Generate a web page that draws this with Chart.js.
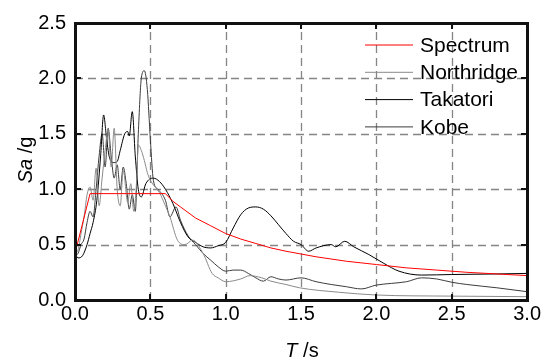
<!DOCTYPE html>
<html>
<head>
<meta charset="utf-8">
<script src="https://cdn.jsdelivr.net/npm/chart.js"></script>
<style>
    html, body { margin: 0; padding: 0; background: #fff; }
    #wrap { width: 543px; height: 361px; }
</style>
</head>
<body>
<div id="wrap"><canvas id="sa-chart" width="543" height="361"></canvas></div>
<script>
// period T (s) and spectral acceleration Sa (g)
const spectrumT  = [0, 0.1, 0.6, 0.65, 0.7, 0.8, 0.9, 1.0, 1.1, 1.2, 1.3, 1.4, 1.5, 1.6, 1.8, 2.0, 2.2, 2.4, 2.6, 2.8, 3.0];
const spectrumSa = [0.42, 0.96, 0.96, 0.89, 0.84, 0.74, 0.67, 0.60, 0.55, 0.51, 0.47, 0.44, 0.415, 0.39, 0.35, 0.32, 0.29, 0.27, 0.25, 0.235, 0.22];

const northridgeT  = [0, 0.02, 0.04, 0.06, 0.08, 0.1, 0.12, 0.14, 0.16, 0.18, 0.2, 0.22, 0.24, 0.26, 0.28, 0.3, 0.32, 0.35, 0.37, 0.39, 0.41, 0.42, 0.44, 0.46, 0.48, 0.5, 0.56, 0.6, 0.63, 0.68, 0.73, 0.78, 0.85, 0.91, 0.95, 1.0, 1.1, 1.16, 1.24, 1.3, 1.4, 1.49, 1.75, 2.0, 2.5, 3.0];
const northridgeSa = [0.42, 0.45, 0.6, 0.75, 0.95, 1.02, 0.9, 1.19, 0.85, 1.1, 1.35, 1.54, 1.2, 1.55, 1.0, 0.85, 1.17, 0.88, 1.05, 0.8, 1.1, 1.4, 1.35, 1.26, 1.15, 1.08, 0.97, 0.85, 0.75, 0.54, 0.5, 0.54, 0.42, 0.24, 0.2, 0.165, 0.19, 0.22, 0.2, 0.17, 0.14, 0.11, 0.07, 0.045, 0.035, 0.03];

const takatoriT  = [0, 0.02, 0.05, 0.08, 0.1, 0.12, 0.145, 0.17, 0.19, 0.21, 0.23, 0.26, 0.28, 0.3, 0.33, 0.35, 0.36, 0.38, 0.4, 0.42, 0.44, 0.47, 0.52, 0.56, 0.6, 0.65, 0.7, 0.75, 0.8, 0.85, 0.9, 0.95, 1.0, 1.05, 1.1, 1.15, 1.2, 1.25, 1.3, 1.35, 1.4, 1.45, 1.5, 1.55, 1.6, 1.7, 1.73, 1.79, 1.85, 1.95, 2.05, 2.15, 2.3, 2.5, 2.8, 3.0];
const takatoriSa = [0.42, 0.38, 0.4, 0.5, 0.6, 0.7, 0.9, 1.3, 1.67, 1.45, 1.28, 1.24, 1.25, 1.35, 1.5, 1.52, 1.48, 1.7, 1.3, 1.0, 0.93, 1.05, 1.1, 1.07, 1.0, 0.87, 0.7, 0.57, 0.52, 0.48, 0.47, 0.49, 0.52, 0.65, 0.77, 0.83, 0.84, 0.82, 0.76, 0.68, 0.6, 0.53, 0.5, 0.44, 0.47, 0.5, 0.48, 0.53, 0.48, 0.41, 0.33, 0.26, 0.225, 0.23, 0.235, 0.24];

const kobeT  = [0, 0.02, 0.04, 0.06, 0.08, 0.1, 0.12, 0.14, 0.16, 0.18, 0.2, 0.22, 0.24, 0.26, 0.28, 0.3, 0.32, 0.34, 0.36, 0.38, 0.4, 0.42, 0.44, 0.46, 0.48, 0.5, 0.52, 0.55, 0.6, 0.63, 0.67, 0.7, 0.75, 0.8, 0.85, 0.9, 0.95, 1.0, 1.05, 1.1, 1.15, 1.2, 1.25, 1.3, 1.35, 1.4, 1.5, 1.6, 1.7, 1.8, 1.9, 2.0, 2.1, 2.2, 2.3, 2.4, 2.5, 2.6, 2.8, 3.0];
const kobeSa = [0.4, 0.42, 0.5, 0.55, 0.7, 0.8, 0.75, 1.0, 1.3, 1.5, 1.2, 1.55, 1.3, 1.1, 1.22, 1.0, 1.2, 1.05, 0.82, 0.95, 0.8, 1.5, 2.0, 2.07, 1.9, 1.45, 1.08, 1.0, 0.9, 0.75, 0.84, 0.72, 0.58, 0.5, 0.42, 0.36, 0.3, 0.26, 0.27, 0.27, 0.24, 0.2, 0.17, 0.21, 0.19, 0.18, 0.2, 0.165, 0.14, 0.12, 0.1, 0.135, 0.15, 0.165, 0.2, 0.19, 0.16, 0.14, 0.11, 0.075];

const xTicks = [0, 0.5, 1.0, 1.5, 2.0, 2.5, 3.0];
const yTicks = [0, 0.5, 1.0, 1.5, 2.0, 2.5];

const FONT = 'Arial, "Liberation Sans", sans-serif';

function toPoints(xs, ys) {
    return xs.map((x, i) => ({ x: x, y: ys[i] }));
}

function lineSet(label, xs, ys, color, smooth) {
    return {
        label: label,
        data: toPoints(xs, ys),
        borderColor: color,
        backgroundColor: color,
        borderWidth: 1,
        pointRadius: 0,
        tension: smooth ? 0.4 : 0,
        cubicInterpolationMode: smooth ? 'monotone' : 'default',
        showLine: true
    };
}

// dashed grid drawn before the lines
const dashedGrid = {
    id: 'dashedGrid',
    beforeDatasetsDraw(chart) {
        const ctx = chart.ctx;
        const a = chart.chartArea;
        const xs = chart.scales.x;
        const ys = chart.scales.y;
        ctx.save();
        ctx.strokeStyle = '#858585';
        ctx.lineWidth = 1.3;
        ctx.setLineDash([8, 5]);
        xTicks.slice(1, -1).forEach(v => {
            const px = Math.round(xs.getPixelForValue(v)) + 0.5;
            ctx.beginPath();
            ctx.moveTo(px, a.bottom);
            ctx.lineTo(px, a.top);
            ctx.stroke();
        });
        yTicks.slice(1, -1).forEach(v => {
            const py = Math.round(ys.getPixelForValue(v)) + 0.5;
            ctx.beginPath();
            ctx.moveTo(a.left, py);
            ctx.lineTo(a.right, py);
            ctx.stroke();
        });
        ctx.restore();
    }
};

// box and inward ticks, stroked as several 1px lines
const boxLines = {
    id: 'boxLines',
    afterDatasetsDraw(chart) {
        const ctx = chart.ctx;
        const a = chart.chartArea;
        const xs = chart.scales.x;
        const ys = chart.scales.y;
        const L = Math.round(a.left), R = Math.round(a.right);
        const T = Math.round(a.top), B = Math.round(a.bottom);
        ctx.save();
        ctx.setLineDash([]);
        ctx.strokeStyle = '#111111';
        ctx.lineWidth = 1;
        for (let k = -1; k <= 1; k++) {
            ctx.beginPath();
            ctx.moveTo(L + k + 0.5, T - 1);
            ctx.lineTo(L + k + 0.5, B + 2);
            ctx.moveTo(R + k + 0.5, T - 1);
            ctx.lineTo(R + k + 0.5, B + 2);
            ctx.moveTo(L - 1, T + k + 0.5);
            ctx.lineTo(R + 2, T + k + 0.5);
            ctx.moveTo(L - 1, B + k + 0.5);
            ctx.lineTo(R + 2, B + k + 0.5);
            ctx.stroke();
        }
        for (let k = 0; k <= 1; k++) {
            ctx.beginPath();
            xTicks.forEach(v => {
                const px = Math.round(xs.getPixelForValue(v)) - 1 + k + 0.5;
                ctx.moveTo(px, B); ctx.lineTo(px, B - 6);
                ctx.moveTo(px, T); ctx.lineTo(px, T + 6);
            });
            yTicks.forEach(v => {
                const py = Math.round(ys.getPixelForValue(v)) - 1 + k + 0.5;
                ctx.moveTo(L, py); ctx.lineTo(L + 6, py);
                ctx.moveTo(R, py); ctx.lineTo(R - 6, py);
            });
            ctx.stroke();
        }
        ctx.restore();
    }
};

// axis titles and the in-plot legend
const decorations = {
    id: 'decorations',
    afterDraw(chart) {
        const ctx = chart.ctx;
        ctx.save();
        ctx.setLineDash([]);

        ctx.font = '21px ' + FONT;
        ctx.textBaseline = 'middle';
        ctx.textAlign = 'left';
        chart.data.datasets.forEach((ds, i) => {
            const y = 45 + i * 27.3;
            ctx.strokeStyle = ds.borderColor;
            ctx.lineWidth = 1;
            ctx.beginPath();
            ctx.moveTo(365, y);
            ctx.lineTo(413, y);
            ctx.stroke();
            ctx.fillStyle = '#000';
            ctx.fillText(ds.label, 420, y + 1);
        });

        // x title: italic T then " /s"
        ctx.textBaseline = 'alphabetic';
        ctx.font = 'italic 20px ' + FONT;
        const tW = ctx.measureText('T').width;
        ctx.font = '20px ' + FONT;
        const sW = ctx.measureText(' /s').width;
        let x0 = 302 - (tW + sW) / 2;
        ctx.font = 'italic 20px ' + FONT;
        ctx.fillText('T', x0, 357);
        ctx.font = '20px ' + FONT;
        ctx.fillText(' /s', x0 + tW, 357);

        // y title: italic Sa then " /g", rotated
        ctx.translate(32, 160);
        ctx.rotate(-Math.PI / 2);
        ctx.font = 'italic 20px ' + FONT;
        const saW = ctx.measureText('Sa').width;
        ctx.font = '20px ' + FONT;
        const gW = ctx.measureText(' /g').width;
        x0 = -(saW + gW) / 2;
        ctx.font = 'italic 20px ' + FONT;
        ctx.fillText('Sa', x0, 0);
        ctx.font = '20px ' + FONT;
        ctx.fillText(' /g', x0 + saW, 0);

        ctx.restore();
    }
};

new Chart(document.getElementById('sa-chart'), {
    type: 'scatter',
    data: {
        datasets: [
            lineSet('Spectrum', spectrumT, spectrumSa, '#ff0000', false),
            lineSet('Northridge', northridgeT, northridgeSa, '#8a8a8a', true),
            lineSet('Takatori', takatoriT, takatoriSa, '#000000', true),
            lineSet('Kobe', kobeT, kobeSa, '#3c3c3c', true)
        ]
    },
    options: {
        responsive: false,
        animation: false,
        layout: { padding: { top: 23, right: 14, left: 0, bottom: 0 } },
        plugins: {
            legend: { display: false },
            tooltip: { enabled: false }
        },
        scales: {
            x: {
                type: 'linear',
                min: 0,
                max: 3,
                afterFit: s => { s.height = 61; },
                afterBuildTicks: s => { s.ticks = xTicks.map(v => ({ value: v })); },
                grid: { display: false, drawTicks: false },
                border: { display: false },
                ticks: {
                    color: '#000',
                    font: { size: 20, family: FONT },
                    padding: 2,
                    maxRotation: 0,
                    callback: v => v.toFixed(1)
                }
            },
            y: {
                type: 'linear',
                min: 0,
                max: 2.5,
                afterFit: s => { s.width = 75; },
                afterBuildTicks: s => { s.ticks = yTicks.map(v => ({ value: v })); },
                grid: { display: false, drawTicks: false },
                border: { display: false },
                ticks: {
                    color: '#000',
                    font: { size: 20, family: FONT },
                    padding: 9,
                    callback: v => v.toFixed(1)
                }
            }
        }
    },
    plugins: [dashedGrid, boxLines, decorations]
});
</script>
</body>
</html>
